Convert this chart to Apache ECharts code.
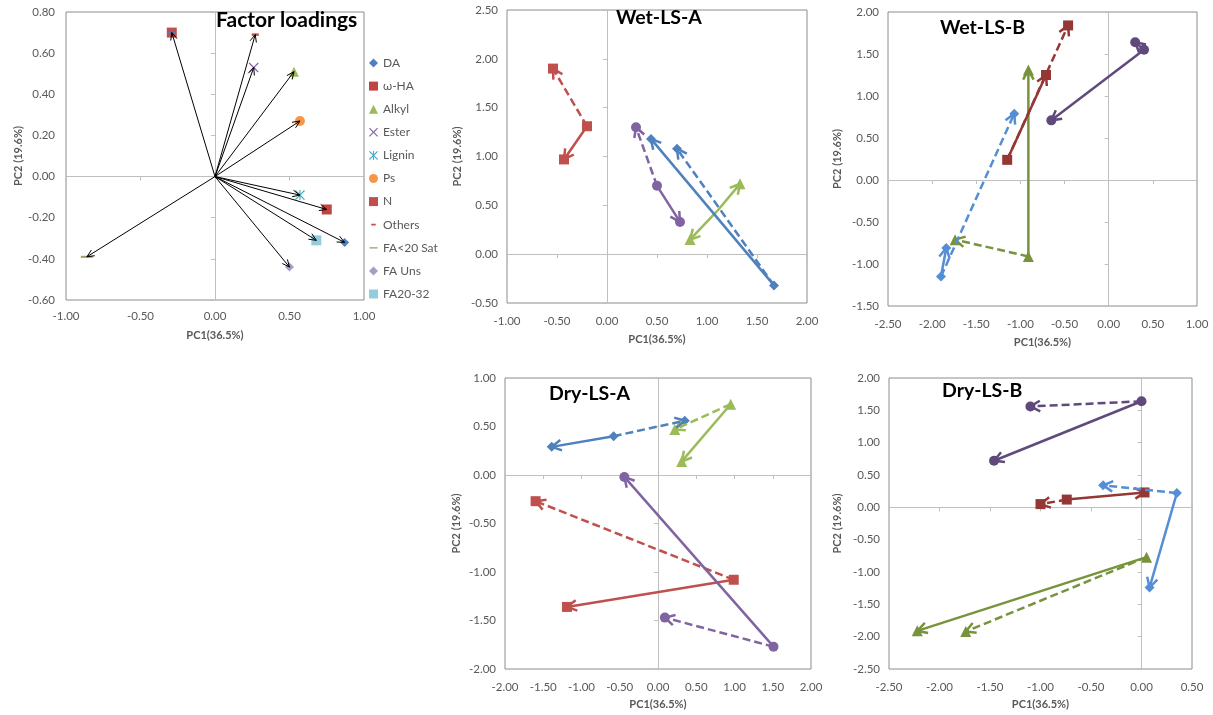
<!DOCTYPE html>
<html>
<head>
<meta charset="utf-8">
<title>Factor loadings and PCA trajectories</title>
<script src="https://cdn.jsdelivr.net/npm/echarts@6.0.0/dist/echarts.min.js"></script>
<style>
  html, body { margin: 0; padding: 0; background: #fff; }
  #chart { width: 1213px; height: 715px; }
</style>
</head>
<body>
<div id="chart"></div>
<script>
// factor loadings (PC1, PC2)
const loadingNames = ['DA', 'ω-HA', 'Alkyl', 'Ester', 'Lignin', 'Ps', 'N', 'Others', 'FA<20 Sat', 'FA Uns', 'FA20-32'];
const loadingPC1 = [0.87, 0.75, 0.53, 0.26, 0.57, 0.57, -0.29, 0.27, -0.86, 0.50, 0.68];
const loadingPC2 = [-0.32, -0.16, 0.51, 0.53, -0.09, 0.27, 0.70, 0.69, -0.39, -0.44, -0.31];

// trajectories: [start, end of solid arrow, end of dashed arrow]
const wetA_red    = [[-0.20, 1.31], [-0.43, 0.97], [-0.54, 1.90]];
const wetA_blue   = [[1.67, -0.32], [0.44, 1.18], [0.70, 1.08]];
const wetA_purple = [[0.50, 0.70], [0.73, 0.33], [0.29, 1.30]];
const wetA_green  = [[1.10, 0.44], [0.83, 0.15], [1.33, 0.72]];

const wetB_red    = [[-1.15, 0.24], [-0.71, 1.25], [-0.46, 1.84]];
const wetB_blue   = [[-1.90, -1.15], [-1.84, -0.81], [-1.07, 0.79]];
const wetB_purple = [[0.40, 1.55], [-0.65, 0.71], [0.30, 1.64]];
const wetB_green  = [[-0.91, -0.91], [-0.91, 1.31], [-1.74, -0.71]];

const dryA_red    = [[0.99, -1.08], [-1.19, -1.36], [-1.60, -0.27]];
const dryA_blue   = [[-0.58, 0.40], [-1.39, 0.29], [0.35, 0.56]];
const dryA_purple = [[1.51, -1.77], [-0.44, -0.02], [0.09, -1.47]];
const dryA_green  = [[0.95, 0.73], [0.31, 0.14], [0.22, 0.47]];

const dryB_red    = [[-0.74, 0.12], [0.03, 0.23], [-1.00, 0.05]];
const dryB_blue   = [[0.35, 0.22], [0.08, -1.24], [-0.38, 0.34]];
const dryB_purple = [[0.00, 1.64], [-1.46, 0.72], [-1.10, 1.56]];
const dryB_green  = [[0.05, -0.77], [-2.22, -1.91], [-1.74, -1.92]];

const xTitle = 'PC1(36.5%)';
const yTitle = 'PC2 (19.6%)';

const FONT = 'Lato, "Open Sans", sans-serif';
const TEXT = '#595959';
const ZERO = '#BFBFBF';

const paletteA = { red: '#C0504D', blue: '#4F81BD', purple: '#8064A2', green: '#9BBB59' };
const paletteB = { red: '#953735', blue: '#558ED5', purple: '#604A7B', green: '#77933C' };
const groupSymbol = { red: 'rect', blue: 'diamond', purple: 'circle', green: 'triangle' };

const xPath = 'path://M0,0.9 L0.9,0 L5,4.1 L9.1,0 L10,0.9 L5.9,5 L10,9.1 L9.1,10 L5,5.9 L0.9,10 L0,9.1 L4.1,5 Z';
const starPath = xPath + ' M4.4,0 L5.6,0 L5.6,10 L4.4,10 Z';
const plusPath = 'path://M4.2,0 L5.8,0 L5.8,4.2 L10,4.2 L10,5.8 L5.8,5.8 L5.8,10 L4.2,10 L4.2,5.8 L0,5.8 L0,4.2 L4.2,4.2 Z';

const grids = [], xAxes = [], yAxes = [], series = [], titles = [];

function fmt (v) { return v.toFixed(2) }

// one plot box: label axes on the edges, grey zero axes with ticks
function addPanel (p) {
  const g = grids.length;
  grids.push({
    left: p.box[0], top: p.box[1], width: p.box[2], height: p.box[3],
    show: true, borderColor: '#8C8C8C', borderWidth: 1, containLabel: false, outerBoundsMode: 'none'
  });
  const base = r => ({ type: 'value', gridIndex: g, min: r[0], max: r[1], interval: r[2], splitLine: { show: false } });
  const nameStyle = { fontSize: 11, fontWeight: 'bold', color: TEXT, fontFamily: FONT };
  const labelStyle = { fontSize: 11.5, color: TEXT, fontFamily: FONT, formatter: fmt, showMinLabel: true, showMaxLabel: true };
  xAxes.push(Object.assign(base(p.x), {
    position: 'bottom', axisLine: { show: false, onZero: false }, axisTick: { show: false },
    axisLabel: Object.assign({ margin: p.xMargin }, labelStyle),
    name: xTitle, nameLocation: 'middle', nameGap: p.xGap, nameTextStyle: nameStyle, nameMoveOverlap: false
  }));
  xAxes.push(Object.assign(base(p.x), {
    position: 'bottom', axisLine: { onZero: true, lineStyle: { color: ZERO } },
    axisTick: { length: 4, lineStyle: { color: ZERO } }, axisLabel: { show: false }
  }));
  yAxes.push(Object.assign(base(p.y), {
    position: 'left', axisLine: { show: false, onZero: false }, axisTick: { show: false },
    axisLabel: Object.assign({ margin: p.yMargin }, labelStyle),
    name: yTitle, nameLocation: 'middle', nameGap: p.yGap, nameTextStyle: nameStyle, nameMoveOverlap: false
  }));
  yAxes.push(Object.assign(base(p.y), {
    position: 'left', axisLine: { onZero: true, lineStyle: { color: ZERO } },
    axisTick: { length: 4, lineStyle: { color: ZERO } }, axisLabel: { show: false }
  }));
  titles.push({
    text: p.title, left: p.titlePos[0], top: p.titlePos[1], padding: 0,
    textStyle: { fontSize: p.titleSize, fontWeight: 'bold', color: '#000', fontFamily: FONT }
  });
  return 2 * g;
}

// arrow with an open V head, drawn from axis coordinates
function arrowRenderer (colors, width, headLen, headAng, dash) {
  return function (params, api) {
    const p0 = api.coord([api.value(0), api.value(1)]);
    const p1 = api.coord([api.value(2), api.value(3)]);
    const color = colors[api.value(4)];
    const ang = Math.atan2(p1[1] - p0[1], p1[0] - p0[0]);
    const w1 = [p1[0] - headLen * Math.cos(ang - headAng), p1[1] - headLen * Math.sin(ang - headAng)];
    const w2 = [p1[0] - headLen * Math.cos(ang + headAng), p1[1] - headLen * Math.sin(ang + headAng)];
    return {
      type: 'group',
      children: [
        { type: 'line', shape: { x1: p0[0], y1: p0[1], x2: p1[0], y2: p1[1] },
          style: { stroke: color, lineWidth: width, fill: 'none', lineDash: api.value(5) ? dash : null } },
        { type: 'polyline', shape: { points: [w1, p1, w2] },
          style: { stroke: color, lineWidth: width, fill: 'none' } }
      ]
    };
  };
}

// ---------- Factor loadings ----------
const ax0 = addPanel({
  box: [66, 12, 298, 288], x: [-1, 1, 0.5], y: [-0.6, 0.8, 0.2],
  xMargin: 10, xGap: 30, yMargin: 11, yGap: 42,
  title: 'Factor loadings', titlePos: [216, 10], titleSize: 21
});
const loadingColors = ['#4F81BD', '#BE4541', '#9BBB59', '#8064A2', '#4BACC6', '#F79646', '#C0504D', '#C0504D', '#A09A5C', '#A99BC8', '#93CDDD'];
const loadingSymbols = ['diamond', 'rect', 'triangle', xPath, starPath, 'circle', 'rect', 'rect', 'rect', 'diamond', 'rect'];
const loadingSizes = [9, 10, 10, 10, 10, 10, 10, [7, 2.5], [12, 2], 9, 10];
loadingNames.forEach((name, i) => {
  series.push({
    type: 'scatter', name: name, xAxisIndex: ax0, yAxisIndex: ax0, z: 2,
    symbol: loadingSymbols[i], symbolSize: loadingSizes[i],
    itemStyle: { color: loadingColors[i], opacity: 1 },
    data: [[loadingPC1[i], loadingPC2[i]]]
  });
});
series.push({
  type: 'scatter', name: 'N+', xAxisIndex: ax0, yAxisIndex: ax0, z: 3,
  symbol: plusPath, symbolSize: 8, itemStyle: { color: '#4F81BD' },
  data: [[loadingPC1[6], loadingPC2[6]]]
});
series.push({
  type: 'custom', xAxisIndex: ax0, yAxisIndex: ax0, z: 4, silent: true,
  renderItem: arrowRenderer(['#000'], 1, 8, 0.42, null),
  encode: { x: [0, 2], y: [1, 3] },
  data: loadingNames.map((n, i) => [0, 0, loadingPC1[i], loadingPC2[i], 0, 0])
});

// ---------- trajectory panels ----------
function addTrajectories (ax, palette, groups) {
  const colors = [], rows = [];
  groups.forEach(([key, pts, bothSolid]) => {
    const c = colors.length;
    colors.push(palette[key]);
    rows.push([pts[0][0], pts[0][1], pts[1][0], pts[1][1], c, 0]);
    rows.push([pts[0][0], pts[0][1], pts[2][0], pts[2][1], c, bothSolid ? 0 : 1]);
    series.push({
      type: 'scatter', xAxisIndex: ax, yAxisIndex: ax, z: 2,
      symbol: groupSymbol[key], symbolSize: key === 'green' ? 11 : 10,
      itemStyle: { color: palette[key], opacity: 1 },
      data: bothSolid ? pts.slice(1) : pts
    });
  });
  series.push({
    type: 'custom', xAxisIndex: ax, yAxisIndex: ax, z: 3, silent: true,
    renderItem: arrowRenderer(colors, 2.5, 11, 0.5, [8, 4]),
    encode: { x: [0, 2], y: [1, 3] },
    data: rows
  });
}

const ax1 = addPanel({
  box: [507, 10, 300, 293], x: [-1, 2, 0.5], y: [-0.5, 2.5, 0.5],
  xMargin: 12, xGap: 31, yMargin: 9, yGap: 44,
  title: 'Wet-LS-A', titlePos: [616, 8], titleSize: 19.5
});
addTrajectories(ax1, paletteA, [['green', wetA_green, true], ['red', wetA_red], ['blue', wetA_blue], ['purple', wetA_purple]]);

const ax2 = addPanel({
  box: [888, 12, 309, 294], x: [-2.5, 1, 0.5], y: [-1.5, 2, 0.5],
  xMargin: 12, xGap: 31, yMargin: 9, yGap: 45,
  title: 'Wet-LS-B', titlePos: [940, 18], titleSize: 19.5
});
addTrajectories(ax2, paletteB, [['green', wetB_green], ['red', wetB_red], ['blue', wetB_blue], ['purple', wetB_purple]]);

const ax3 = addPanel({
  box: [505, 378, 306, 291], x: [-2, 2, 0.5], y: [-2, 1, 0.5],
  xMargin: 12, xGap: 30, yMargin: 9, yGap: 43,
  title: 'Dry-LS-A', titlePos: [549, 384], titleSize: 19.5
});
addTrajectories(ax3, paletteA, [['green', dryA_green], ['red', dryA_red], ['blue', dryA_blue], ['purple', dryA_purple]]);

const ax4 = addPanel({
  box: [889, 378, 303, 291], x: [-2.5, 0.5, 0.5], y: [-2.5, 2, 0.5],
  xMargin: 12, xGap: 30, yMargin: 9, yGap: 46,
  title: 'Dry-LS-B', titlePos: [942, 381], titleSize: 19.5
});
addTrajectories(ax4, paletteB, [['green', dryB_green], ['red', dryB_red], ['blue', dryB_blue], ['purple', dryB_purple]]);

// legend icons that differ from the marker drawn on the plot
const legendIcons = {
  'Others': 'path://M0,0 L0.01,0 Z M2.5,4 L7.5,4 L7.5,6 L2.5,6 Z M10,10 L9.99,10 Z',
  'FA<20 Sat': 'path://M0,0 L0.01,0 Z M0.5,4.3 L9.5,4.3 L9.5,5.7 L0.5,5.7 Z M10,10 L9.99,10 Z'
};

const chart = echarts.init(document.getElementById('chart'));
chart.setOption({
  animation: false,
  backgroundColor: '#fff',
  title: titles,
  grid: grids,
  xAxis: xAxes,
  yAxis: yAxes,
  legend: {
    orient: 'vertical', left: 369, top: 57, padding: 0,
    itemWidth: 9, itemHeight: 9, itemGap: 11.1, selectedMode: false,
    textStyle: { fontSize: 12, color: TEXT, fontFamily: FONT },
    data: loadingNames.map(n => legendIcons[n] ? { name: n, icon: legendIcons[n] } : { name: n })
  },
  series: series
});
</script>
</body>
</html>
